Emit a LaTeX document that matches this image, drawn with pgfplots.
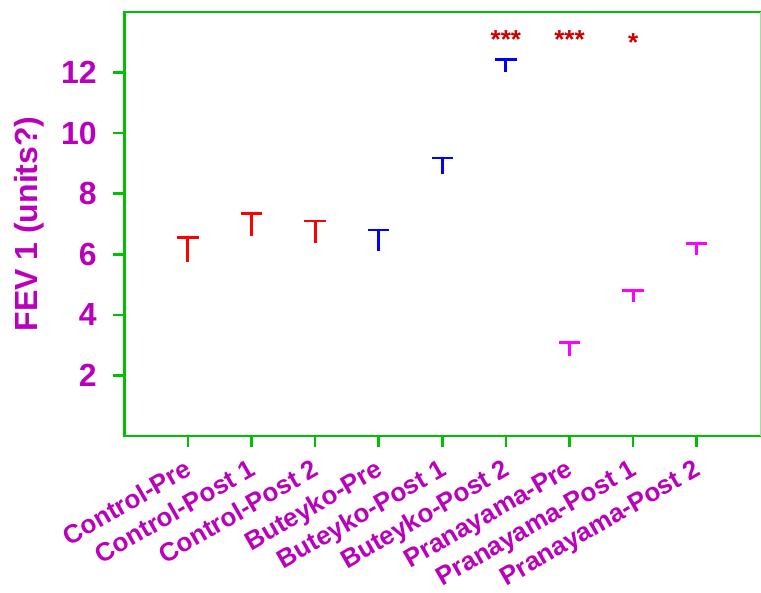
\documentclass[border=0pt]{standalone}
\usepackage{pgfplots}
\pgfplotsset{compat=1.18}
\usepackage{pgfplotstable}
\usepackage{fontspec}
\setmainfont{Liberation Sans}
\definecolor{axgreen}{RGB}{0,192,0}
\definecolor{lblmag}{RGB}{187,0,187}
\definecolor{starred}{RGB}{204,0,0}
\definecolor{rightgreen}{RGB}{150,230,150}
\definecolor{barred}{RGB}{255,0,0}
\definecolor{barblue}{RGB}{0,0,255}
\definecolor{barmag}{RGB}{255,0,255}

\pgfplotstableread{
x y e top
0 5.76 0.79 6.55
1 6.61 0.74 7.35
2 6.36 0.74 7.10
}\controltab
\pgfplotstableread{
x y e top
3 6.12 0.68 6.80
4 8.64 0.54 9.18
5 12.01 0.42 12.43
}\buteykotab
\pgfplotstableread{
x y e top
6 2.63 0.47 3.10
7 4.43 0.38 4.81
8 5.96 0.40 6.36
}\pranatab

\begin{document}
\begin{tikzpicture}
\begin{axis}[
  scale only axis, width=636pt, height=424pt,
  xmin=-1, xmax=9, ymin=0, ymax=14,
  axis x line*=bottom, axis y line*=left,
  axis line style={axgreen, line width=2.7pt, line cap=rect},
  tick align=outside,
  major tick length=11pt,
  tick style={axgreen, line width=2.7pt},
  xtick={0,...,8},
  xticklabels={Control-Pre, Control-Post 1, Control-Post 2, Buteyko-Pre, Buteyko-Post 1, Buteyko-Post 2, Pranayama-Pre, Pranayama-Post 1, Pranayama-Post 2},
  ytick={2,4,...,12},
  /pgf/number format/assume math mode=true,
  yticklabel style={font=\fontsize{32}{32}\selectfont\bfseries, text=lblmag, inner sep=0pt, anchor=east, xshift=-16.3pt},
  xticklabel style={font=\fontsize{26}{26}\selectfont\bfseries, text=lblmag, inner sep=0pt, anchor=north east, xshift=-4pt, yshift=-11pt, rotate=30},
  ylabel={FEV 1 (units?)},
  every axis y label/.style={at={(axis description cs:-0.1498,0.5)}, rotate=90, anchor=center, font=\fontsize{32}{32}\selectfont\bfseries, text=lblmag},
  clip=false,
]
% stems
\addplot[draw=none, mark=none, forget plot, error bars/.cd, y dir=plus, y explicit, error mark=none,
  error bar style={draw=barred, line width=3pt}]
  table[x=x, y=y, y error=e] {\controltab};
\addplot[draw=none, mark=none, forget plot, error bars/.cd, y dir=plus, y explicit, error mark=none,
  error bar style={draw=barblue, line width=3pt}]
  table[x=x, y=y, y error=e] {\buteykotab};
\addplot[draw=none, mark=none, forget plot, error bars/.cd, y dir=plus, y explicit, error mark=none,
  error bar style={draw=barmag, line width=3pt}]
  table[x=x, y=y, y error=e] {\pranatab};
% caps
\addplot[only marks, mark=-, mark size=10.7pt, mark options={draw=barred, line width=2.8pt}]
  table[x=x, y=top] {\controltab};
\addplot[only marks, mark=-, mark size=10.7pt, mark options={draw=barblue, line width=2.8pt}]
  table[x=x, y=top] {\buteykotab};
\addplot[only marks, mark=-, mark size=10.7pt, mark options={draw=barmag, line width=2.8pt}]
  table[x=x, y=top] {\pranatab};
\node[text=starred, font=\fontsize{26}{26}\selectfont\bfseries, anchor=base] at (axis cs:5,12.81) {***};
\node[text=starred, font=\fontsize{26}{26}\selectfont\bfseries, anchor=base] at (axis cs:6,12.81) {***};
\node[text=starred, font=\fontsize{26}{26}\selectfont\bfseries, anchor=base] at (axis cs:7,12.71) {*};
\draw[axgreen, line width=2.7pt, line cap=rect] (axis description cs:0,1) -- (axis description cs:1,1);
\draw[rightgreen, line width=1pt] (axis description cs:1,0) -- (axis description cs:1,1);
\end{axis}
\pgfresetboundingbox
\path[use as bounding box] (-124.3pt,-157pt) rectangle (636.7pt,436pt);
\end{tikzpicture}
\end{document}
